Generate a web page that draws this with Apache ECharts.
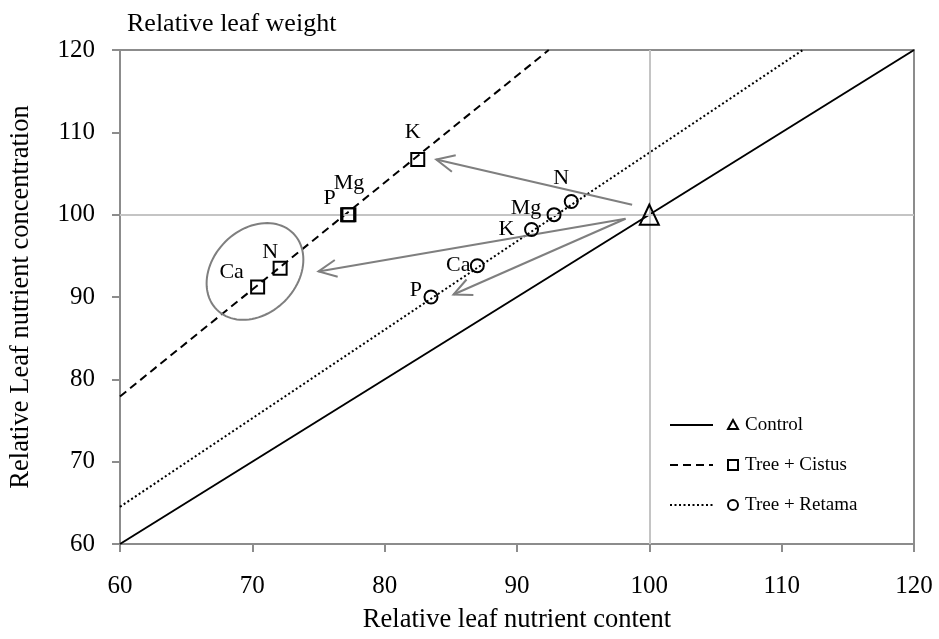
<!DOCTYPE html>
<html>
<head>
<meta charset="utf-8">
<script src="https://cdn.jsdelivr.net/npm/echarts@6/dist/echarts.min.js"></script>
<style>html,body{margin:0;padding:0;background:#fff}#c{width:939px;height:639px}</style>
</head>
<body>
<div id="c"></div>
<script>
// ---- data ----
const nutrients = ['N', 'P', 'K', 'Ca', 'Mg'];
const cistusX = [72.1, 77.2, 82.5, 70.4, 77.3];
const cistusY = [93.5, 100.0, 106.7, 91.2, 100.0];
const retamaX = [94.1, 83.5, 91.1, 87.0, 92.8];
const retamaY = [101.6, 90.0, 98.2, 93.8, 100.0];
const controlX = [100];
const controlY = [100];
const seriesNames = ['Control', 'Tree + Cistus', 'Tree + Retama'];
const leafWeight = [100, 77, 93];          // relative leaf weight per treatment
const arrowFrom = [[98.7, 101.2], [98.2, 99.5], [98.2, 99.5]];
const arrowTo = [[83.9, 106.7], [75.0, 93.1], [85.2, 90.3]];
const ellipseCenter = [[70.2, 93.1]];
const xTicks = [60, 70, 80, 90, 100, 110, 120];
const yTicks = [60, 70, 80, 90, 100, 110, 120];

// ---- styles ----
const FONT = 'Liberation Serif';
const GRAY = '#8c8c8c';
const ARROW = '#7f7f7f';
const lineDashes = ['solid', [8, 5], [2, 2.5]];
const topLabelOffset = [[-4, 0], [4, 0], [-10, 0]];
const cistusLabelOffset = { N: [-10, -16], P: [-18, -16], K: [-5, -27], Ca: [-26, -15], Mg: [0, -31] };
const retamaLabelOffset = { N: [-10, -23], P: [-15, -7], K: [-25, 0], Ca: [-19, 0], Mg: [-28, -6] };

const xMin = xTicks[0], xMax = xTicks[xTicks.length - 1];
const yMin = yTicks[0], yMax = yTicks[yTicks.length - 1];

function refLine(w, i) {
  // y = 100 * x / w, from the left edge to the top edge
  const x0 = xMin, y0 = 100 * x0 / w;
  const x1 = Math.min(xMax, yMax * w / 100), y1 = 100 * x1 / w;
  return {
    name: seriesNames[i],
    type: 'line',
    z: 3,
    symbol: 'none',
    silent: true,
    lineStyle: { color: '#000', width: 2, type: lineDashes[i] },
    data: [
      [x0, y0],
      { value: [x1, y1], label: { show: true, position: 'top', distance: 5, offset: topLabelOffset[i],
          formatter: String(w), fontFamily: FONT, fontSize: 25, color: '#000' } }
    ],
    label: { show: false }
  };
}

function pointSeries(name, xs, ys, symbol, size, offsets) {
  return {
    name: name,
    type: 'scatter',
    z: 5,
    symbol: symbol,
    symbolSize: size,
    itemStyle: { color: 'rgba(255,255,255,0)', borderColor: '#000', borderWidth: 2, opacity: 1 },
    data: xs.map((x, i) => {
      const d = { value: [x, ys[i]] };
      if (offsets) {
        const n = nutrients[i];
        d.label = { show: true, formatter: n, position: 'inside', offset: offsets[n],
          fontFamily: FONT, fontSize: 22, color: '#000' };
      }
      return d;
    })
  };
}

const chart = echarts.init(document.getElementById('c'), null, { renderer: 'canvas' });

const legendY = [425, 465, 505];
const legendGraphics = [];
const symbolsG = [
  (y) => ({ type: 'polygon', shape: { points: [[733, y - 5], [738, y + 4], [728, y + 4]] }, style: { fill: 'none', stroke: '#000', lineWidth: 2 } }),
  (y) => ({ type: 'rect', shape: { x: 728, y: y - 5, width: 10, height: 10 }, style: { fill: 'none', stroke: '#000', lineWidth: 2 } }),
  (y) => ({ type: 'circle', shape: { cx: 733, cy: y, r: 5 }, style: { fill: 'none', stroke: '#000', lineWidth: 2 } })
];
seriesNames.forEach((n, i) => {
  const y = legendY[i];
  legendGraphics.push({ type: 'line', shape: { x1: 670, y1: y, x2: 713, y2: y },
    style: { stroke: '#000', lineWidth: 2, lineDash: lineDashes[i] === 'solid' ? null : lineDashes[i] } });
  legendGraphics.push(symbolsG[i](y));
  legendGraphics.push({ type: 'text', x: 745, y: y, style: { text: n, fontFamily: FONT, fontSize: 19,
    fill: '#000', verticalAlign: 'middle', textAlign: 'left' } });
});

const option = {
  animation: false,
  backgroundColor: '#fff',
  title: {
    text: 'Relative leaf weight', left: 122, top: 6,
    textStyle: { fontFamily: FONT, fontSize: 26, fontWeight: 'normal', color: '#000' }
  },
  grid: { left: 120, right: 25, top: 50, bottom: 93, show: true, borderColor: GRAY, borderWidth: 2 },
  xAxis: {
    type: 'value', min: xMin, max: xMax, interval: 10,
    name: 'Relative leaf nutrient content', nameLocation: 'middle', nameGap: 63,
    nameTextStyle: { fontFamily: FONT, fontSize: 26.5, color: '#000' },
    axisLine: { show: true, lineStyle: { color: GRAY, width: 2 } },
    axisTick: { show: true, length: 8, lineStyle: { color: GRAY, width: 2 } },
    axisLabel: { margin: 30, fontFamily: FONT, fontSize: 25, color: '#000' },
    splitLine: { show: false }
  },
  yAxis: {
    type: 'value', min: yMin, max: yMax, interval: 10,
    name: 'Relative Leaf nutrient concentration', nameLocation: 'middle', nameGap: 85,
    nameTextStyle: { fontFamily: FONT, fontSize: 26.5, color: '#000' },
    axisLine: { show: true, lineStyle: { color: GRAY, width: 2 } },
    axisTick: { show: true, length: 8, lineStyle: { color: GRAY, width: 2 } },
    axisLabel: { margin: 25, fontFamily: FONT, fontSize: 25, color: '#000' },
    splitLine: { show: false }
  },
  graphic: legendGraphics,
  series: [
    {
      type: 'line', z: 1, data: [], silent: true,
      markLine: {
        silent: true, symbol: 'none', label: { show: false },
        lineStyle: { color: '#c4c4c4', width: 2, type: 'solid' },
        data: [{ xAxis: 100 }, { yAxis: 100 }]
      }
    },
    refLine(leafWeight[0], 0),
    refLine(leafWeight[1], 1),
    refLine(leafWeight[2], 2),
    {
      type: 'custom', z: 4, silent: true,
      data: arrowFrom.map((a, i) => [a[0], a[1], arrowTo[i][0], arrowTo[i][1]]),
      encode: { x: [0, 2], y: [1, 3] },
      renderItem: function (params, api) {
        const p1 = api.coord([api.value(0), api.value(1)]);
        const p2 = api.coord([api.value(2), api.value(3)]);
        const dx = p1[0] - p2[0], dy = p1[1] - p2[1];
        const L = Math.sqrt(dx * dx + dy * dy);
        const ux = dx / L, uy = dy / L;
        const hl = 18, hw = 8.5;
        const w1 = [p2[0] + ux * hl - uy * hw, p2[1] + uy * hl + ux * hw];
        const w2 = [p2[0] + ux * hl + uy * hw, p2[1] + uy * hl - ux * hw];
        return {
          type: 'group', children: [
            { type: 'line', shape: { x1: p1[0], y1: p1[1], x2: p2[0], y2: p2[1] }, style: { stroke: ARROW, lineWidth: 2 } },
            { type: 'polyline', shape: { points: [w1, p2, w2] }, style: { stroke: ARROW, lineWidth: 2, fill: null } }
          ]
        };
      }
    },
    {
      type: 'custom', z: 4, silent: true,
      data: ellipseCenter,
      encode: { x: 0, y: 1 },
      renderItem: function (params, api) {
        const c = api.coord([api.value(0), api.value(1)]);
        const a = 54, b = 42, phi = -Math.PI / 4;
        const pts = [];
        for (let k = 0; k < 96; k++) {
          const t = 2 * Math.PI * k / 96;
          const ex = a * Math.cos(t), ey = b * Math.sin(t);
          pts.push([c[0] + ex * Math.cos(phi) - ey * Math.sin(phi), c[1] + ex * Math.sin(phi) + ey * Math.cos(phi)]);
        }
        return { type: 'polygon', shape: { points: pts }, style: { stroke: ARROW, lineWidth: 2, fill: 'none' } };
      }
    },
    pointSeries(seriesNames[0], controlX, controlY, 'triangle', [19, 20], null),
    pointSeries(seriesNames[1], cistusX, cistusY, 'rect', 13, cistusLabelOffset),
    pointSeries(seriesNames[2], retamaX, retamaY, 'circle', 13, retamaLabelOffset)
  ]
};
chart.setOption(option);
</script>
</body>
</html>
